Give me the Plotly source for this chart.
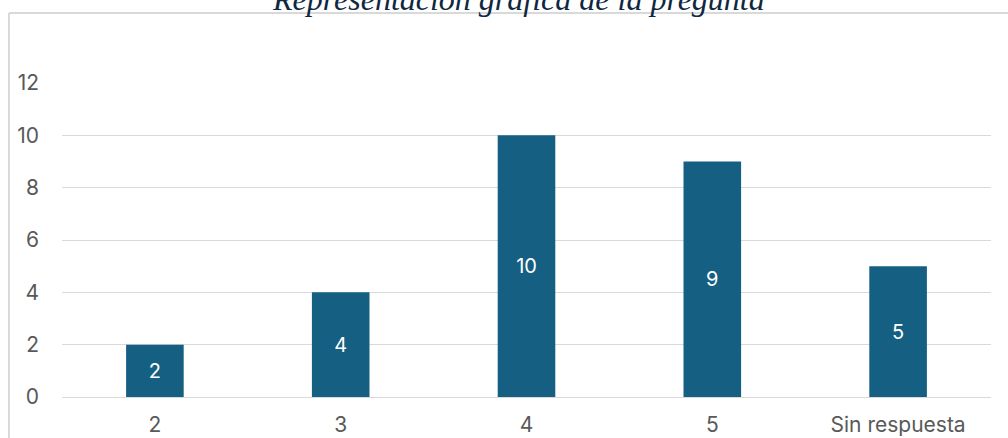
import plotly.graph_objects as go

# Respuestas por opción
categorias = ["2", "3", "4", "5", "Sin respuesta"]
valores = [2, 4, 10, 9, 5]
marcas_y = [0, 2, 4, 6, 8, 10, 12]

W, H = 1008, 438
L, R, T, B = 62, 17, 83, 41
PW, PH = W - L - R, H - T - B

FUENTE = "Inter, Roboto, sans-serif"

fig = go.Figure()
fig.add_trace(go.Bar(
    x=categorias,
    y=valores,
    width=0.31,
    marker=dict(color="#156082", line=dict(width=0)),
    text=[str(v) for v in valores],
    textposition="inside",
    insidetextanchor="middle",
    textangle=0,
    textfont=dict(family=FUENTE, size=20, color="#FFFFFF"),
    hoverinfo="skip",
))

fig.update_layout(
    width=W,
    height=H,
    margin=dict(l=L, r=R, t=T, b=B, pad=0, autoexpand=False),
    paper_bgcolor="#FFFFFF",
    plot_bgcolor="#FFFFFF",
    showlegend=False,
    xaxis=dict(
        type="category",
        automargin=False,
        showgrid=False,
        showline=False,
        zeroline=False,
        ticks="",
        ticklabelstandoff=13,
        tickfont=dict(family=FUENTE, size=21, color="#595959"),
    ),
    yaxis=dict(
        range=[0, 12],
        tickvals=marcas_y,
        automargin=False,
        showgrid=True,
        gridcolor="#D9D9D9",
        gridwidth=1,
        zeroline=True,
        zerolinecolor="#D9D9D9",
        zerolinewidth=1,
        showline=False,
        ticks="",
        ticklabelstandoff=22,
        tickfont=dict(family=FUENTE, size=21, color="#595959"),
    ),
)

# Marco del gráfico (bordes izquierdo y superior)
x_marco = (9 - L) / PW
y_marco = (H - B - 13) / PH
fig.add_shape(type="line", xref="paper", yref="paper",
              x0=x_marco, x1=(W + 20 - L) / PW, y0=y_marco, y1=y_marco,
              line=dict(color="#D9D9D9", width=2))
fig.add_shape(type="line", xref="paper", yref="paper",
              x0=x_marco, x1=x_marco, y0=y_marco, y1=-(B + 20) / PH,
              line=dict(color="#D9D9D9", width=2))

# Título
fig.add_annotation(
    text="<i>Representación gráfica de la pregunta</i>",
    xref="paper", yref="paper",
    x=(518 - L) / PW, y=(H - B + 1) / PH,
    xanchor="center", yanchor="middle",
    showarrow=False,
    font=dict(family="Liberation Serif, Times New Roman, serif", size=32, color="#0E2841"),
)

fig.write_html("out.html")
